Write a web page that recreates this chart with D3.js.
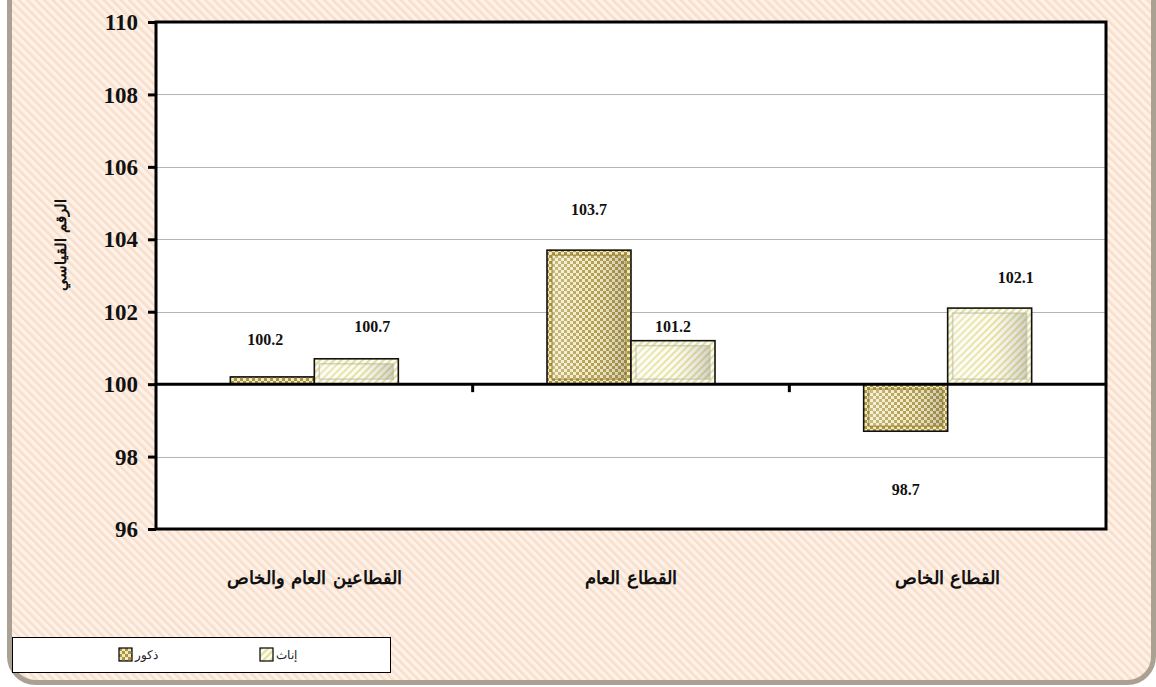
<!DOCTYPE html>
<html><head><meta charset="utf-8">
<script src="https://cdn.jsdelivr.net/npm/d3@7"></script>
<style>html,body{margin:0;padding:0;background:#fff;}svg{display:block;}</style>
</head><body><svg id="c" width="1156" height="687"></svg>
<script>
const categories = ["القطاعين العام والخاص", "القطاع العام", "القطاع الخاص"];
const seriesNames = ["ذكور", "إناث"];
const maleValues = [100.2, 103.7, 98.7];
const femaleValues = [100.7, 101.2, 102.1];
const yTickValues = [96, 98, 100, 102, 104, 106, 108, 110];
const yTitle = "الرقم القياسي";

const svg = d3.select("#c");
const W = 1156, H = 687;
const plot = {l: 156, r: 1106, t: 22, b: 529};
const defs = svg.append("defs");

// background pattern
const bg = defs.append("pattern").attr("id","bgp").attr("patternUnits","userSpaceOnUse")
  .attr("width",6).attr("height",6).attr("patternTransform","rotate(-45)");
bg.append("rect").attr("width",6).attr("height",6).attr("fill","#fdf1e8");
bg.append("rect").attr("width",2.6).attr("height",6).attr("fill","#f8dfcc");

// male checker pattern
const mp = defs.append("pattern").attr("id","mp").attr("patternUnits","userSpaceOnUse")
  .attr("width",6).attr("height",6);
mp.append("rect").attr("width",6).attr("height",6).attr("fill","#f1e9c0");
mp.append("rect").attr("width",3).attr("height",3).attr("fill","#ab9540");
mp.append("rect").attr("x",3).attr("y",3).attr("width",3).attr("height",3).attr("fill","#ab9540");

// female diagonal pattern
const fp = defs.append("pattern").attr("id","fp").attr("patternUnits","userSpaceOnUse")
  .attr("width",5).attr("height",5).attr("patternTransform","rotate(45)");
fp.append("rect").attr("width",5).attr("height",5).attr("fill","#fbfbf0");
fp.append("rect").attr("width",2).attr("height",5).attr("fill","#e3de98");

// bevel gradients
const gH = defs.append("linearGradient").attr("id","shadeH").attr("x1",0).attr("x2",1).attr("y1",0).attr("y2",0);
gH.append("stop").attr("offset","0").attr("stop-color","#fff").attr("stop-opacity",0.35);
gH.append("stop").attr("offset","0.5").attr("stop-color","#fff").attr("stop-opacity",0.12);
gH.append("stop").attr("offset","1").attr("stop-color","#555").attr("stop-opacity",0.25);

// outer frame
svg.append("rect").attr("x",0).attr("y",0).attr("width",W).attr("height",H).attr("fill","#fff");
svg.append("rect").attr("x",9.5).attr("y",-40).attr("width",1144).attr("height",722.5)
  .attr("rx",26).attr("fill","url(#bgp)").attr("stroke","#aaa192").attr("stroke-width",5);

const y = d3.scaleLinear().domain([96,110]).range([plot.b, plot.t]);
const x = d3.scaleBand().domain(categories).range([plot.l, plot.r]).padding(0);
const xs = d3.scaleBand().domain(seriesNames).range([0, x.bandwidth()]).paddingInner(0).paddingOuter(0.885);

// plot area
svg.append("rect").attr("x",plot.l).attr("y",plot.t).attr("width",plot.r-plot.l).attr("height",plot.b-plot.t).attr("fill","#fff");

// gridlines
svg.append("g").selectAll("line").data(yTickValues.filter(v=>v!==96 && v!==110 && v!==100)).join("line")
  .attr("x1",plot.l).attr("x2",plot.r).attr("y1",d=>Math.round(y(d))+0.5).attr("y2",d=>Math.round(y(d))+0.5)
  .attr("stroke","#b4b4b4").attr("stroke-width",1.2);

// bars
const rows = categories.map((c,i)=>[{c, s:seriesNames[0], v:maleValues[i], fill:"url(#mp)"},{c, s:seriesNames[1], v:femaleValues[i], fill:"url(#fp)"}]).flat();
const base = 100;
const bars = svg.append("g").selectAll("g").data(rows).join("g");
bars.each(function(d){
  const g = d3.select(this);
  const bx = x(d.c) + xs(d.s), bw = xs.bandwidth();
  const top = Math.min(y(d.v), y(base)), h = Math.abs(y(d.v) - y(base));
  g.append("rect").attr("x",bx).attr("y",top).attr("width",bw).attr("height",h).attr("fill",d.fill);
  if (h > 10) {
    const ins = Math.min(5, h/4);
    g.append("rect").attr("x",bx+ins).attr("y",top+ins).attr("width",bw-2*ins).attr("height",h-2*ins)
      .attr("fill","url(#shadeH)").attr("stroke", d.s===seriesNames[0] ? "#8c7a30" : "#b8b8a8")
      .attr("stroke-opacity",0.6).attr("stroke-width",1.5);
  }
  g.append("rect").attr("x",bx).attr("y",top).attr("width",bw).attr("height",h)
    .attr("fill","none").attr("stroke","#111").attr("stroke-width",1.6);
});

// value labels (layout nudges, not data)
const labelNudge = [[-7,-38],[16,-33],[0,-41],[0,-15],[0,58],[26,-31]];
svg.append("g").selectAll("text").data(rows).join("text")
  .attr("x",(d,i)=>x(d.c)+xs(d.s)+xs.bandwidth()/2+labelNudge[i][0])
  .attr("y",(d,i)=>y(d.v)+labelNudge[i][1]+6)
  .attr("text-anchor","middle").attr("font-family","Liberation Serif, Times New Roman, serif")
  .attr("font-weight","bold").attr("font-size",16).attr("fill","#111")
  .text(d=>d3.format(".1f")(d.v));

// baseline axis at 100
svg.append("line").attr("x1",plot.l).attr("x2",plot.r).attr("y1",y(base)).attr("y2",y(base))
  .attr("stroke","#000").attr("stroke-width",3);
// category ticks
svg.append("g").selectAll("line").data(categories.slice(1)).join("line")
  .attr("x1",d=>x(d)).attr("x2",d=>x(d)).attr("y1",y(base)).attr("y2",y(base)+8)
  .attr("stroke","#000").attr("stroke-width",3);

// plot border
svg.append("rect").attr("x",plot.l).attr("y",plot.t).attr("width",plot.r-plot.l).attr("height",plot.b-plot.t)
  .attr("fill","none").attr("stroke","#000").attr("stroke-width",3);

// y axis
const yAxis = d3.axisLeft(y).tickValues(yTickValues).tickSize(8).tickPadding(10).tickFormat(d3.format("d"));
const ya = svg.append("g").attr("transform",`translate(${plot.l},0)`).call(yAxis);
ya.select(".domain").remove();
ya.selectAll(".tick line").attr("stroke","#000").attr("stroke-width",3);
ya.selectAll(".tick text").attr("font-family","Liberation Serif, Times New Roman, serif")
  .attr("font-weight","bold").attr("font-size",23).attr("fill","#111").attr("dy","0.33em");

// category labels
svg.append("g").selectAll("text").data(categories).join("text")
  .attr("x",d=>x(d)+x.bandwidth()/2).attr("y",584)
  .attr("text-anchor","middle").attr("font-family","DejaVu Serif, Liberation Serif, serif")
  .attr("font-weight","bold").attr("font-size",18).attr("fill","#111").attr("direction","rtl")
  .text(d=>d);

// y title
svg.append("text").attr("transform","translate(66,245) rotate(-90)")
  .attr("text-anchor","middle").attr("font-family","DejaVu Serif, Liberation Serif, serif")
  .attr("font-weight","bold").attr("font-size",15).attr("fill","#111").attr("direction","rtl")
  .text(yTitle);

// legend
const lg = svg.append("g");
lg.append("rect").attr("x",12.5).attr("y",637.5).attr("width",378).attr("height",35).attr("fill","#fff").attr("stroke","#000").attr("stroke-width",1);
const legX = d3.scalePoint().domain(seriesNames).range([119,260]);
const legFill = {[seriesNames[0]]:"url(#mp)",[seriesNames[1]]:"url(#fp)"};
const li = lg.selectAll("g.li").data(seriesNames).join("g").attr("class","li")
  .attr("transform",d=>`translate(${legX(d)},648)`);
li.append("rect").attr("width",13).attr("height",13).attr("fill",d=>legFill[d]).attr("stroke","#000").attr("stroke-width",1.2);
li.append("text").attr("x",16).attr("y",11).attr("font-family","DejaVu Serif, Liberation Serif, serif")
  .attr("font-size",12).attr("fill","#222").attr("text-anchor","start").text(d=>d);
</script></body></html>
